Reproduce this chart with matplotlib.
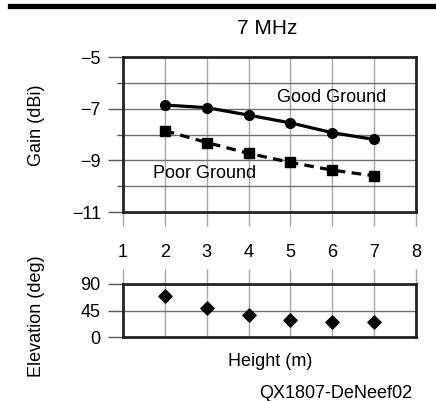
import matplotlib.pyplot as plt
from matplotlib.lines import Line2D

plt.rcParams["font.family"] = ["Liberation Sans", "DejaVu Sans"]
plt.rcParams["font.size"] = 13

heights = [2, 3, 4, 5, 6, 7]
good_ground = [-6.86, -6.96, -7.25, -7.55, -7.93, -8.19]
poor_ground = [-7.85, -8.31, -8.73, -9.08, -9.38, -9.60]
elevation = [70, 49, 38, 29, 26, 26]

x_ticks = [1, 2, 3, 4, 5, 6, 7, 8]
gain_ticks = [-5, -7, -9, -11]
gain_minor = [-6, -8, -10]
elev_ticks = [0, 45, 90]

W, H = 436, 401
fig = plt.figure(figsize=(W / 100, H / 100), dpi=100)

grid_col = "#a8a8a8"
frame_col = "#222222"
fs = 13

# upper panel: gain
ax = fig.add_axes([123 / W, 1 - 212 / H, 293 / W, 155 / H])
ax.plot(heights, good_ground, color="black", lw=2.3, marker="o", ms=7, zorder=3)
ax.plot(heights, poor_ground, color="black", lw=2.3, ls=(0, (3, 2)), marker="s", ms=6.5, zorder=3)
ax.set_xlim(1, 8)
ax.set_ylim(-11, -5)
ax.set_xticks(x_ticks)
ax.set_yticks(gain_ticks)
ax.set_yticks(gain_minor, minor=True)
ax.set_yticklabels(["\u22125", "\u22127", "\u22129", "\u221211"])
for v in x_ticks[1:-1]:
    ax.axvline(v, color=grid_col, lw=1, zorder=1)
for v in range(-10, -5):
    ax.axhline(v, color="#707070", lw=1, zorder=1)
ax.tick_params(axis="x", direction="out", length=10, width=1, color=grid_col, pad=13, labelsize=fs)
ax.tick_params(axis="y", which="major", direction="out", length=11, width=1, color="#555555", pad=5, labelsize=fs)
ax.tick_params(axis="y", which="minor", direction="out", length=4, width=1, color="#555555")
for s in ax.spines.values():
    s.set_linewidth(2)
    s.set_color(frame_col)
ax.set_ylabel("Gain (dBi)", fontsize=fs)
ax.yaxis.set_label_coords(-0.266, 0.56)
ax.text(4.68, -6.55, "Good Ground", fontsize=fs, va="center", ha="left")
ax.text(1.72, -9.5, "Poor Ground", fontsize=fs, va="center", ha="left")

# lower panel: elevation
ax2 = fig.add_axes([123 / W, 1 - 337 / H, 293 / W, 53 / H])
ax2.scatter(heights, elevation, marker="D", s=45, color="black", zorder=3)
ax2.set_xlim(1, 8)
ax2.set_ylim(0, 90)
ax2.set_yticks(elev_ticks)
ax2.set_xticks(x_ticks)
ax2.xaxis.tick_top()
ax2.tick_params(axis="x", direction="out", length=11, width=1, color=grid_col, labeltop=False)
ax2.tick_params(axis="y", direction="out", length=11, width=1, color="#555555", pad=5, labelsize=fs)
for v in x_ticks[1:-1]:
    ax2.axvline(v, color=grid_col, lw=1, zorder=1)
ax2.axhline(45, color="#707070", lw=1, zorder=1)
for s in ax2.spines.values():
    s.set_linewidth(2)
    s.set_color(frame_col)
ax2.set_ylabel("Elevation (deg)", fontsize=fs)
ax2.yaxis.set_label_coords(-0.266, 0.4)

fig.text(267 / W, 1 - 28 / H, "7 MHz", ha="center", va="center", fontsize=15)
fig.text(270 / W, 1 - 362 / H, "Height (m)", ha="center", va="center", fontsize=fs)
fig.text(412 / W, 1 - 393 / H, "QX1807-DeNeef02", ha="right", va="center", fontsize=fs)
fig.add_artist(Line2D([10 / W, 1], [1 - 5.5 / H, 1 - 5.5 / H], color="black", lw=3.8,
                      transform=fig.transFigure))

fig.savefig("out.png", dpi=100)
